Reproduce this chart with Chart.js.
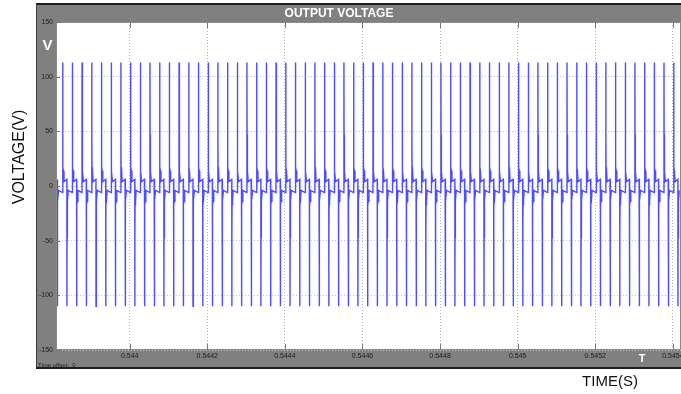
<!DOCTYPE html>
<html>
<head>
<meta charset="utf-8">
<script src="https://cdn.jsdelivr.net/npm/chart.js@4.4.1/dist/chart.umd.min.js"></script>
<style>
  html, body { margin: 0; padding: 0; background: #ffffff; }
  #wrap { width: 681px; height: 394px; position: relative; }
  canvas { display: block; }
</style>
</head>
<body>
<div id="wrap"><canvas id="scope" width="681" height="394"></canvas></div>
<script>
// Time window shown on the scope (s)
const timeMin = 0.54381;
const timeMax = 0.545421;

// Tick positions and labels
const xTickValues = [0.544, 0.5442, 0.5444, 0.5446, 0.5448, 0.545, 0.5452, 0.5454];
const xTickLabels = ['0.544', '0.5442', '0.5444', '0.5446', '0.5448', '0.545', '0.5452', '0.5454'];
const yTickValues = [-150, -100, -50, 0, 50, 100, 150];

// Instants (s) at which the positive output pulses fire
const positivePulseTimes = [
  0.543827, 0.543852, 0.543877, 0.543902, 0.543927, 0.543952, 0.543977, 0.544002,
  0.544027, 0.544052, 0.544077, 0.544102, 0.544127, 0.544152, 0.544177, 0.544202,
  0.544227, 0.544252, 0.544277, 0.544302, 0.544327, 0.544352, 0.544377, 0.544402,
  0.544427, 0.544452, 0.544477, 0.544502, 0.544527, 0.544552, 0.544577, 0.544602,
  0.544627, 0.544652, 0.544677, 0.544702, 0.544727, 0.544752, 0.544777, 0.544802,
  0.544827, 0.544852, 0.544877, 0.544902, 0.544927, 0.544952, 0.544977, 0.545002,
  0.545027, 0.545052, 0.545077, 0.545102, 0.545127, 0.545152, 0.545177, 0.545202,
  0.545227, 0.545252, 0.545277, 0.545302, 0.545327, 0.545352, 0.545377, 0.545402
];

// Instants (s) at which the negative output pulses fire
const negativePulseTimes = [
  0.543813, 0.543838, 0.543863, 0.543888, 0.543913, 0.543938, 0.543963, 0.543988,
  0.544013, 0.544038, 0.544063, 0.544088, 0.544113, 0.544138, 0.544163, 0.544188,
  0.544213, 0.544238, 0.544263, 0.544288, 0.544313, 0.544338, 0.544363, 0.544388,
  0.544413, 0.544438, 0.544463, 0.544488, 0.544513, 0.544538, 0.544563, 0.544588,
  0.544613, 0.544638, 0.544663, 0.544688, 0.544713, 0.544738, 0.544763, 0.544788,
  0.544813, 0.544838, 0.544863, 0.544888, 0.544913, 0.544938, 0.544963, 0.544988,
  0.545013, 0.545038, 0.545063, 0.545088, 0.545113, 0.545138, 0.545163, 0.545188,
  0.545213, 0.545238, 0.545263, 0.545288, 0.545313, 0.545338, 0.545363, 0.545388,
  0.545413
];

// Voltage steps of one pulse: delay after firing (microseconds) and level (V)
const pulseStepDelays = [0, 0.15, 0.5, 0.8, 2.0, 3.6];
const positivePulseLevels = [-6, 113, 47, 17, 14, 4];
const negativePulseLevels = [6, -110, -47, -17, -14, -4];

// Assemble the voltage trace from the pulse instants and their steps
function buildTrace() {
  const pts = [];
  positivePulseTimes.forEach(t => {
    pulseStepDelays.forEach((d, i) => pts.push({ x: t + d * 1e-6, y: positivePulseLevels[i] }));
  });
  negativePulseTimes.forEach(t => {
    pulseStepDelays.forEach((d, i) => pts.push({ x: t + d * 1e-6, y: negativePulseLevels[i] }));
  });
  pts.sort((a, b) => a.x - b.x);
  return pts;
}

const FONT = "'Liberation Sans', Arial, sans-serif";

// Scope frame, plot background, inward ticks and captions
const scopeFrame = {
  id: 'scopeFrame',
  beforeDraw(chart) {
    const c = chart.ctx;
    const a = chart.chartArea;
    c.save();
    c.fillStyle = '#ffffff';
    c.fillRect(0, 0, chart.width, chart.height);
    // grey scope panel
    c.fillStyle = '#808080';
    c.fillRect(36, 4, chart.width - 36, 365);
    c.fillStyle = '#1e1e1e';
    c.fillRect(36, 3, chart.width - 36, 2);
    c.fillRect(36, 367, chart.width - 36, 2);
    c.fillStyle = '#3a3a3a';
    c.fillRect(36, 4, 1, 364);
    // white plotting area
    c.fillStyle = '#ffffff';
    c.fillRect(a.left, a.top, a.right - a.left, a.bottom - a.top);
    c.restore();
  },
  afterDraw(chart) {
    const c = chart.ctx;
    const a = chart.chartArea;
    const xs = chart.scales.x, ys = chart.scales.y;
    c.save();
    // plot border
    c.strokeStyle = '#8a8a8a';
    c.lineWidth = 1;
    c.strokeRect(a.left + 0.5, a.top + 0.5, a.right - a.left - 1, a.bottom - a.top - 1);
    // inward tick marks
    c.strokeStyle = '#777777';
    c.beginPath();
    xs.ticks.forEach(t => {
      const px = Math.round(xs.getPixelForValue(t.value)) + 0.5;
      c.moveTo(px, a.bottom); c.lineTo(px, a.bottom - 6);
      c.moveTo(px, a.top); c.lineTo(px, a.top + 6);
    });
    ys.ticks.forEach(t => {
      const py = Math.round(ys.getPixelForValue(t.value)) + 0.5;
      c.moveTo(a.left, py); c.lineTo(a.left + 4, py);
    });
    c.stroke();
    // captions inside the scope panel
    c.fillStyle = '#ffffff';
    c.textAlign = 'center';
    c.textBaseline = 'middle';
    c.font = 'bold 12px ' + FONT;
    c.fillText('OUTPUT VOLTAGE', 339, 13.5);
    c.font = 'bold 15px ' + FONT;
    c.fillText('V', 47.5, 46);
    c.font = 'bold 11px ' + FONT;
    c.fillText('T', 642, 358.5);
    c.fillStyle = '#222222';
    c.textAlign = 'left';
    c.font = '6px ' + FONT;
    c.fillText('Time offset:  0', 38, 365);
    // axis captions outside the panel
    c.fillStyle = '#111111';
    c.textAlign = 'center';
    c.font = '15px ' + FONT;
    c.fillText('TIME(S)', 610, 382);
    c.translate(20, 157);
    c.rotate(-Math.PI / 2);
    c.font = '16px ' + FONT;
    c.fillText('VOLTAGE(V)', 0, 0);
    c.restore();
  }
};

new Chart(document.getElementById('scope'), {
  type: 'scatter',
  data: {
    datasets: [{
      data: buildTrace(),
      showLine: true,
      borderColor: 'rgb(78, 78, 255)',
      borderWidth: 1.4,
      pointRadius: 0,
      tension: 0,
      fill: false
    }]
  },
  options: {
    responsive: false,
    devicePixelRatio: 1,
    animation: false,
    events: [],
    layout: { padding: { left: 37, top: 22, right: 0, bottom: 32 } },
    plugins: { legend: { display: false }, tooltip: { enabled: false }, title: { display: false } },
    scales: {
      x: {
        type: 'linear',
        min: timeMin,
        max: timeMax,
        afterBuildTicks: s => { s.ticks = xTickValues.map(v => ({ value: v })); },
        afterFit: s => { s.height = 12; s.paddingLeft = 0; s.paddingRight = 0; },
        ticks: {
          callback: (v, i) => xTickLabels[i],
          font: { size: 7, family: FONT },
          color: '#1c1c1c',
          padding: 2,
          maxRotation: 0,
          autoSkip: false
        },
        grid: { color: '#b4b4b4', drawTicks: false, lineWidth: 1 },
        border: { display: false, dash: [1, 2] }
      },
      y: {
        type: 'linear',
        min: -150,
        max: 150,
        afterBuildTicks: s => { s.ticks = yTickValues.map(v => ({ value: v })); },
        afterFit: s => { s.width = 19; s.paddingTop = 0; s.paddingBottom = 0; },
        ticks: {
          font: { size: 7, family: FONT },
          color: '#1c1c1c',
          padding: 3
        },
        grid: { color: '#c4c4c4', drawTicks: false, lineWidth: 1 },
        border: { display: false, dash: [1, 2] }
      }
    }
  },
  plugins: [scopeFrame]
});
</script>
</body>
</html>
